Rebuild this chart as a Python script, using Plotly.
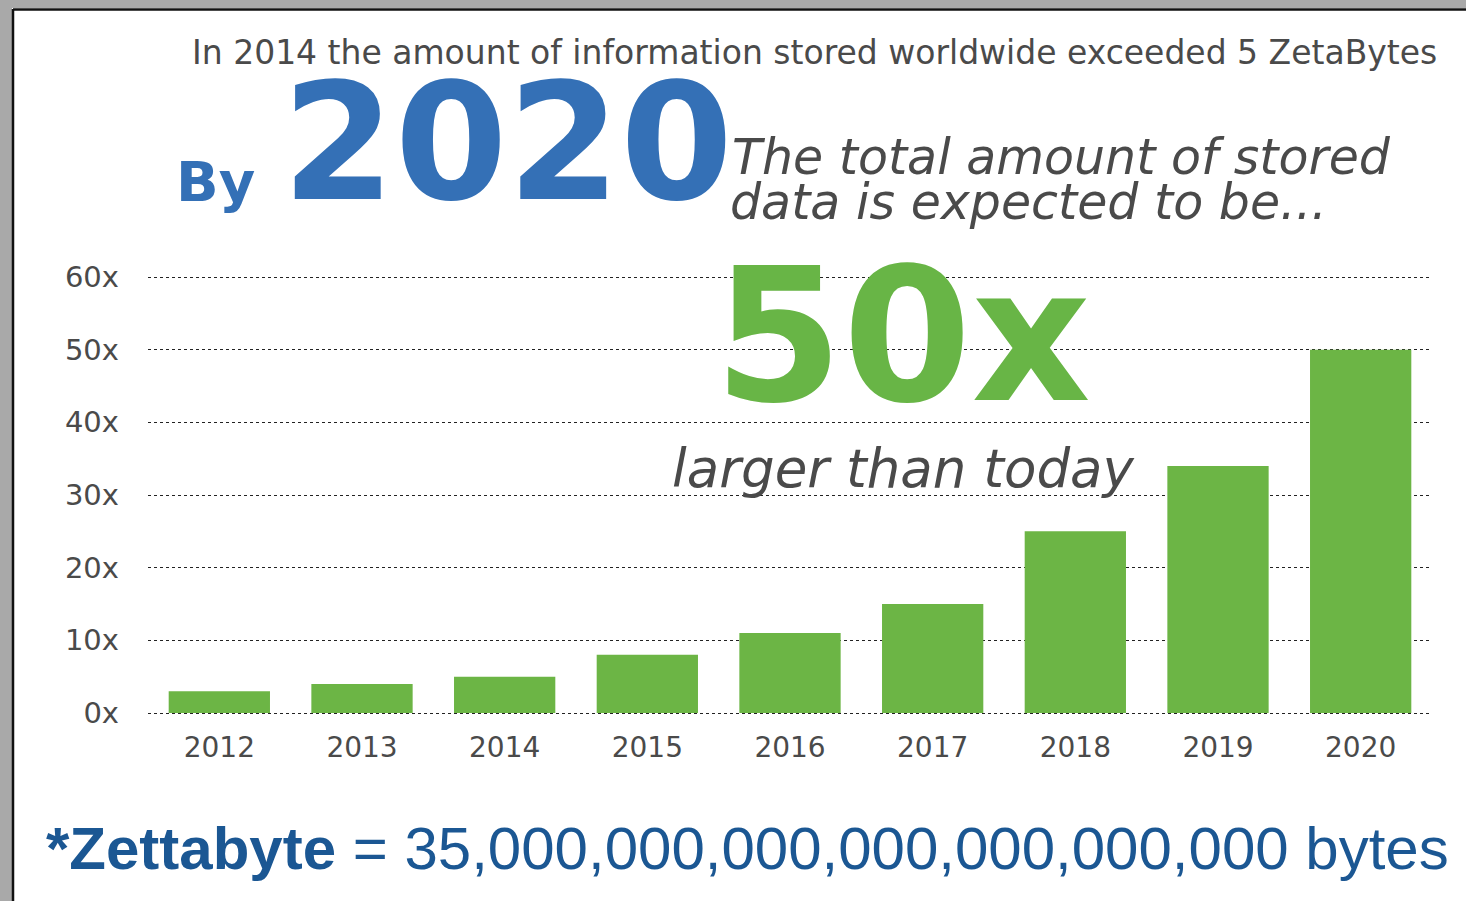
import plotly.graph_objects as go

years = ["2012", "2013", "2014", "2015", "2016", "2017", "2018", "2019", "2020"]
growth = [3, 4, 5, 8, 11, 15, 25, 34, 50]
y_ticks = [0, 10, 20, 30, 40, 50, 60]

W, H = 1466, 901
def px(x):
    return x / W
def py(y):
    return (H - y) / H

BAR = "#6cb545"
BLUE = "#3470b6"
DARKBLUE = "#1b5793"
GRAY = "#4a4a4a"

fig = go.Figure()
fig.add_trace(go.Bar(x=years, y=growth, marker=dict(color=BAR, line=dict(width=0)),
                     width=0.71, hoverinfo="x+y"))

# 60 units span 436 px (277 -> 713); pad the range so edge gridlines are drawn
pad = 0.4
upp = 436 / 60.0
fig.update_layout(
    width=W, height=H,
    margin=dict(l=0, r=0, t=0, b=0),
    paper_bgcolor="white", plot_bgcolor="white",
    showlegend=False,
    xaxis=dict(domain=[px(148), px(1432)], automargin=False, showgrid=False, zeroline=False,
               showline=False, ticks="", tickfont=dict(family="DejaVu Sans", size=28, color=GRAY),
               ticklabelstandoff=12),
    yaxis=dict(domain=[py(713 + pad * upp), py(277 - pad * upp)], range=[-pad, 60 + pad],
               automargin=False,
               tickvals=y_ticks, ticktext=[f"{v}x" for v in y_ticks],
               showgrid=True, gridcolor="#222", griddash="dot", gridwidth=1,
               zeroline=False, showline=False, ticks="",
               tickfont=dict(family="DejaVu Sans", size=29, color=GRAY),
               ticklabelstandoff=28),
)

# Frame
fig.add_shape(type="rect", xref="paper", yref="paper", x0=0, x1=px(12), y0=0, y1=1,
              fillcolor="#a9a9a9", line=dict(width=0), layer="above")
fig.add_shape(type="rect", xref="paper", yref="paper", x0=0, x1=1, y0=py(8), y1=1,
              fillcolor="#a9a9a9", line=dict(width=0), layer="above")
fig.add_shape(type="line", xref="paper", yref="paper", x0=px(13), x1=px(13), y0=0, y1=py(9),
              line=dict(color="#111", width=2.5), layer="above")
fig.add_shape(type="line", xref="paper", yref="paper", x0=px(13), x1=1, y0=py(9.5), y1=py(9.5),
              line=dict(color="#111", width=2.5), layer="above")

def ann(text, x, y, size, color, family="DejaVu Sans", xanchor="left", yanchor="middle"):
    fig.add_annotation(text=text, xref="paper", yref="paper", x=px(x), y=py(y),
                       xanchor=xanchor, yanchor=yanchor, showarrow=False,
                       font=dict(family=family, size=size, color=color))

ann("In 2014 the amount of information stored worldwide exceeded 5 ZetaBytes", 190, 52, 33, GRAY)
ann("<b>By</b>", 174, 181, 56, BLUE)
ann("<b>2020</b>", 280, 143, 162, BLUE)
ann("<i>The total amount of stored</i>", 730, 157, 49, GRAY)
ann("<i>data is expected to be...</i>", 728, 202, 49, GRAY)
ann("<b>50x</b>", 712, 336, 185, "#68b546")
ann("<i>larger than today</i>", 670, 468, 53, GRAY)
ann("<b>*Zettabyte</b> = 35,000,000,000,000,000,000,000 bytes", 44, 848, 60, DARKBLUE,
    family="Liberation Sans")

fig.write_html("out.html")
